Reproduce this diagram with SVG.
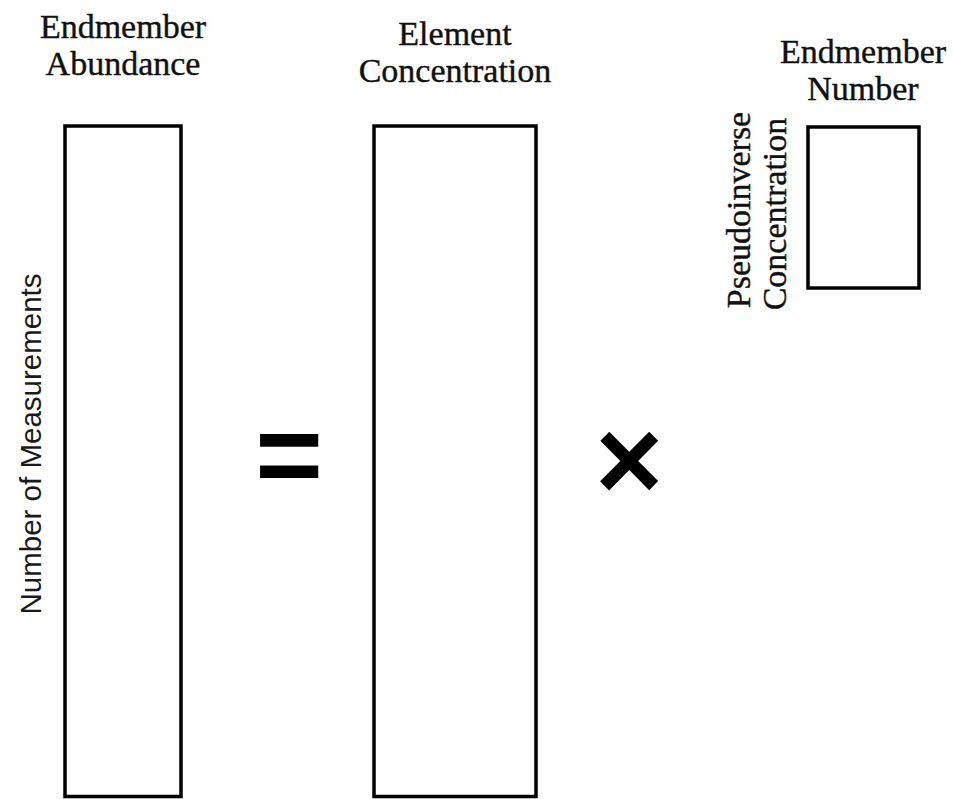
<svg xmlns="http://www.w3.org/2000/svg" width="954" height="799" viewBox="0 0 954 799">
<style>
.box{fill:#fff;stroke:#000;stroke-width:3.5}
.lbl{font-family:"Liberation Serif","DejaVu Serif",serif;font-size:34px;fill:#111;stroke:#111;stroke-width:0.4;text-anchor:middle}
.sans{font-family:"Liberation Sans","DejaVu Sans",sans-serif;font-size:29.5px;fill:#1a1a1a;text-anchor:middle}
.op{font-family:"Liberation Sans","DejaVu Sans",sans-serif;font-weight:bold;fill:#000;text-anchor:middle}
</style>
<rect width="954" height="799" fill="#fff"/>
<g id="abundance">
<rect class="box" x="65" y="126" width="116" height="670.5"/>
<text class="lbl" x="123" y="38">Endmember</text>
<text class="lbl" x="123" y="75">Abundance</text>
<text class="sans" transform="translate(41,444) rotate(-90)">Number of Measurements</text>
</g>
<g id="equals">
<text class="op" x="289" y="495" font-size="116">=</text>
</g>
<g id="concentration">
<rect class="box" x="374" y="126" width="162" height="670.5"/>
<text class="lbl" x="455" y="45">Element</text>
<text class="lbl" x="455" y="82">Concentration</text>
</g>
<g id="times">
<text class="op" x="629" y="500" font-size="116">×</text>
</g>
<g id="pseudoinverse">
<rect class="box" x="808" y="127" width="111" height="161"/>
<text class="lbl" x="863" y="63">Endmember</text>
<text class="lbl" x="863" y="100">Number</text>
<text class="lbl" transform="translate(750,210) rotate(-90)">Pseudoinverse</text>
<text class="lbl" transform="translate(786,214) rotate(-90)">Concentration</text>
</g>
<g id="connectors"></g>
</svg>
